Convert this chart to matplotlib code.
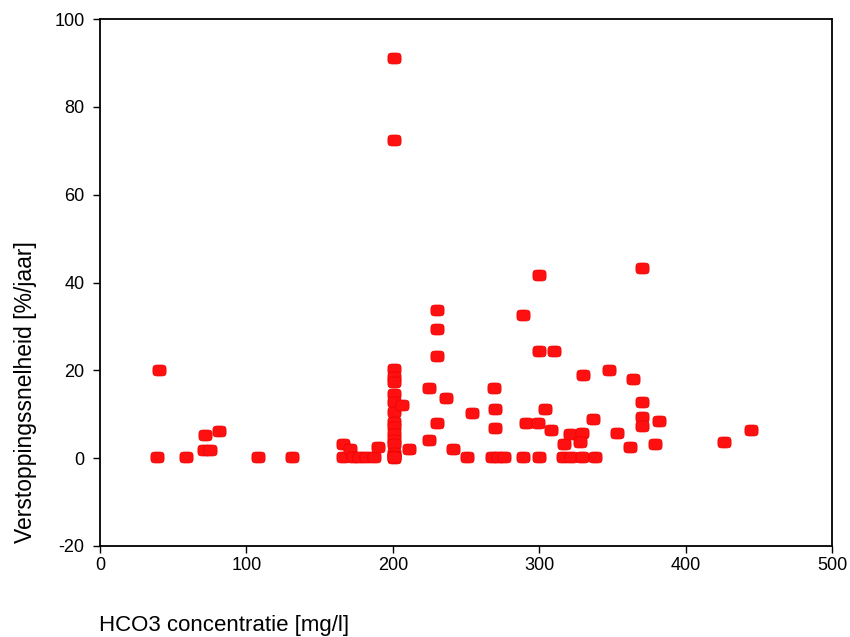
import numpy as np
from matplotlib import pyplot as plt
from matplotlib.path import Path

# HCO3 concentration [mg/l] and clogging rate [%/year]
hco3 = [40, 39, 59, 72, 71, 75, 81, 108, 131,
        166, 166, 171, 173, 177, 182, 187, 190,
        201, 201, 201, 201, 201, 201, 201, 201, 201, 201, 201, 201, 201,
        201, 201, 201, 201, 206, 211,
        225, 225, 230, 230, 230, 230, 236, 241, 251, 254,
        269, 270, 270, 268, 272, 276,
        289, 291, 289, 299, 300, 300, 300, 304, 310, 308,
        317, 321, 316, 322, 330, 329, 328, 329, 337, 338,
        348, 353, 362, 364, 370, 370, 370, 370, 379, 382,
        426, 445]
rate = [20.0, 0.2, 0.2, 5.2, 1.8, 1.8, 6.1, 0.2, 0.2,
        3.3, 0.2, 2.0, 0.2, 0.2, 0.2, 0.2, 2.6,
        91.1, 72.4, 20.4, 18.5, 17.3, 14.7, 12.8, 10.5, 8.3, 7.1, 5.6, 4.1, 3.3,
        1.1, 0.5, 0.0, 0.2, 12.0, 2.2,
        16.0, 4.1, 33.8, 29.5, 23.2, 8.1, 13.6, 2.2, 0.2, 10.2,
        16.0, 11.3, 6.9, 0.2, 0.2, 0.2,
        32.5, 8.0, 0.2, 8.0, 41.7, 24.3, 0.2, 11.3, 24.3, 6.5,
        3.3, 5.5, 0.2, 0.2, 18.9, 5.8, 3.7, 0.2, 8.9, 0.2,
        20.0, 5.8, 2.6, 18.0, 43.3, 12.8, 9.4, 7.3, 3.3, 8.5,
        3.7, 6.5]

x_ticks = [0, 100, 200, 300, 400, 500]
y_ticks = [-20, 0, 20, 40, 60, 80, 100]

plt.rcParams['font.family'] = ['Liberation Sans', 'DejaVu Sans']
plt.rcParams['axes.unicode_minus'] = False

# rounded, slightly wide marker shape
t = np.linspace(0, 2 * np.pi, 60)
mx = 1.2 * np.sign(np.cos(t)) * np.abs(np.cos(t)) ** 0.5
my = 1.0 * np.sign(np.sin(t)) * np.abs(np.sin(t)) ** 0.5
box = Path(np.column_stack([mx, my]))

fig = plt.figure(figsize=(8.5, 6.37), dpi=100)
ax = fig.add_axes([100 / 850, 1 - 546 / 637, 732 / 850, (546 - 19) / 637])

ax.plot(hco3, rate, linestyle='none', marker=box, markersize=9.5,
        markerfacecolor='#ff1010', markeredgecolor='#ee0000', markeredgewidth=0.5)

ax.set_xlim(0, 500)
ax.set_ylim(-20, 100)
ax.set_xticks(x_ticks)
ax.set_yticks(y_ticks)
ax.tick_params(direction='out', length=5, width=1, labelsize=13,
               top=False, right=False)
ax.tick_params(axis='x', pad=3)
ax.tick_params(axis='y', pad=6)
for s in ax.spines.values():
    s.set_linewidth(1.3)

fig.text(99 / 850, 1 - 631 / 637, 'HCO3 concentratie [mg/l]', fontsize=16,
         ha='left', va='baseline')
fig.text(26 / 850, 1 - 392 / 637, 'Verstoppingssnelheid [%/jaar]', fontsize=16.5,
         rotation=90, ha='center', va='center')

fig.savefig('out.png', dpi=100)
